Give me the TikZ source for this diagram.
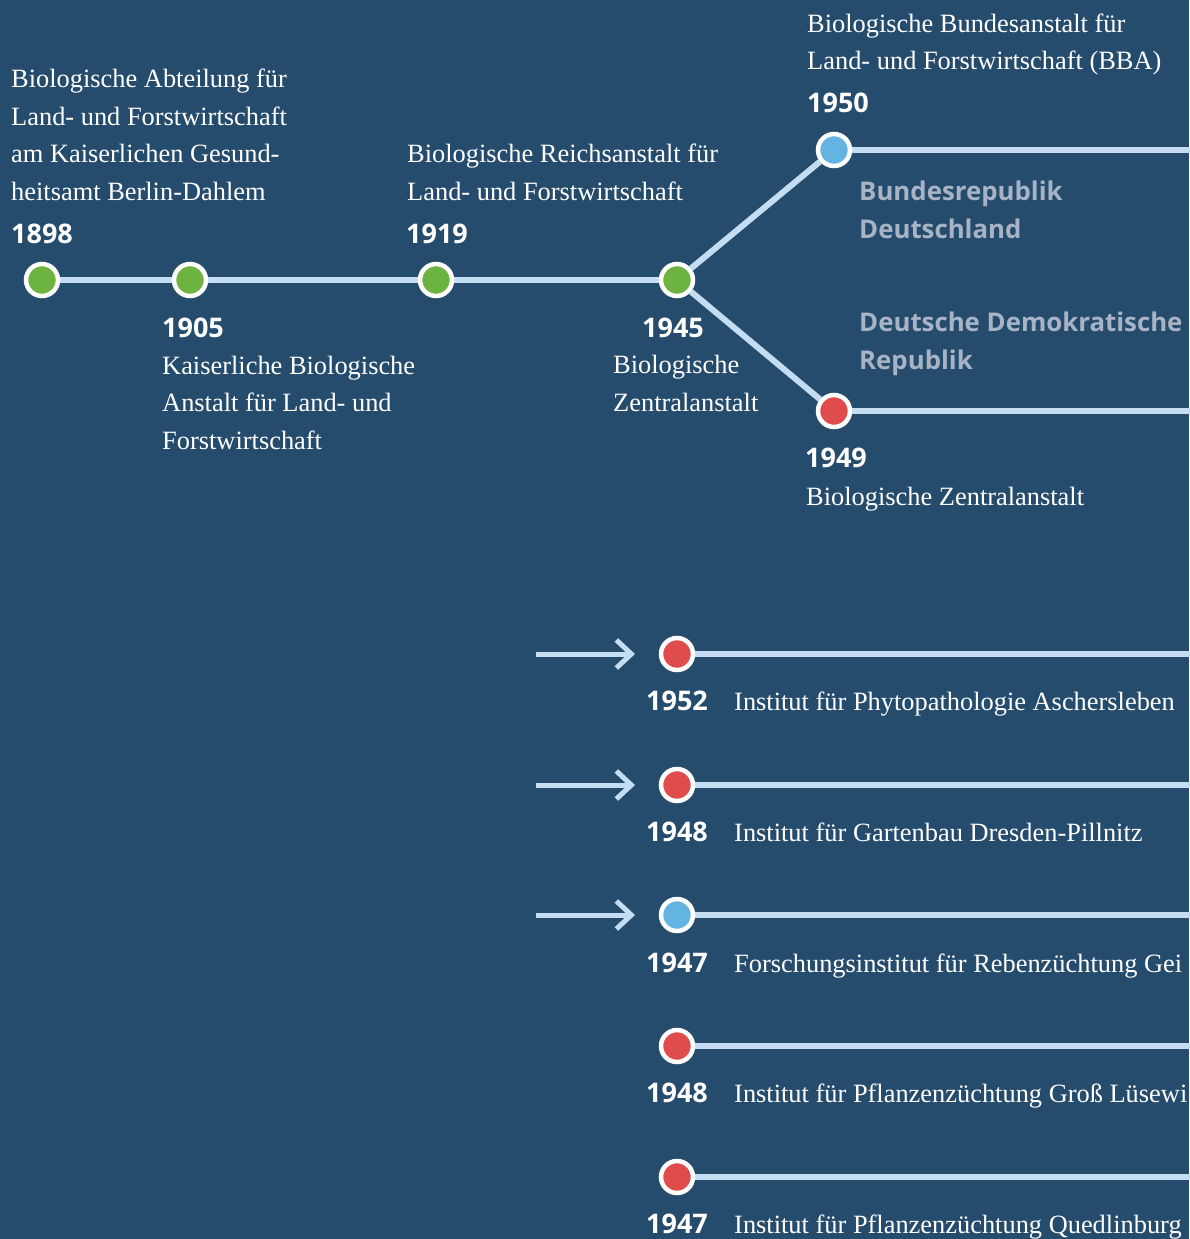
\documentclass[tikz,border=0pt]{standalone}
\usepackage{fontspec}
\setmainfont{Liberation Serif}
\newfontfamily\yearfont{Open Sans}[UprightFont=* Bold]
\usetikzlibrary{arrows.meta}
\definecolor{bgblue}{HTML}{264C6D}
\definecolor{linec}{HTML}{C5DDF2}
\definecolor{dotgreen}{HTML}{6DB33F}
\definecolor{dotred}{HTML}{E04B4B}
\definecolor{dotblue}{HTML}{63B4E1}
\definecolor{graytxt}{HTML}{A8B4C6}
\pgfdeclarelayer{bg}
\pgfdeclarelayer{background}
\pgfsetlayers{bg,background,main}
\tikzset{
  dot/.style={circle, draw=white, line width=4.5pt, minimum size=32pt, inner sep=0pt},
  gdot/.style={dot, fill=dotgreen},
  rdot/.style={dot, fill=dotred},
  bdot/.style={dot, fill=dotblue},
  tline/.style={draw=linec, line width=6pt},
  inarrow/.style={draw=linec, line width=5pt, -{Straight Barb[length=15pt, width=28pt, line width=5pt]}},
  serif/.style={anchor=base west, inner sep=0pt, text=white, align=left,
    font=\fontsize{26.4}{37.5}\selectfont},
  year/.style={anchor=base west, inner sep=0pt, text=white,
    font=\yearfont\fontsize{27}{32}\selectfont},
  country/.style={anchor=base west, inner sep=0pt, text=graytxt, align=left,
    font=\yearfont\fontsize{25.8}{38}\selectfont},
}
\begin{document}
\begin{tikzpicture}[x=1pt, y=-1pt]
\begin{pgfonlayer}{bg}
\fill[bgblue] (0,0) rectangle (1189,1239);
\end{pgfonlayer}
\useasboundingbox (0,0) rectangle (1189,1239);
\clip (0,0) rectangle (1189,1239);

% dots, upper part
\node[gdot] (d1898) at (42,280) {};
\node[gdot] (d1905) at (190,280) {};
\node[gdot] (d1919) at (436,280) {};
\node[gdot] (d1945) at (677,280) {};
\node[bdot] (d1950) at (834,150) {};
\node[rdot] (d1949) at (834,411) {};
\coordinate (e1950) at (1200,150);
\coordinate (e1949) at (1200,411);

% dots, lower part
\node[rdot] (l1) at (677,654) {};
\node[rdot] (l2) at (677,785) {};
\node[bdot] (l3) at (677,915) {};
\node[rdot] (l4) at (677,1046) {};
\node[rdot] (l5) at (677,1177) {};
\foreach \i/\y in {1/654,2/785,3/915,4/1046,5/1177}{
  \coordinate (le\i) at (1200,\y);
}
\foreach \i/\y in {1/654,2/785,3/915}{
  \coordinate (as\i) at (536,\y);
  \coordinate (ae\i) at (635,\y);
}

\begin{pgfonlayer}{background}
\draw[tline] (d1898) -- (d1905);
\draw[tline] (d1905) -- (d1919);
\draw[tline] (d1919) -- (d1945);
\draw[tline] (d1945) -- (d1950);
\draw[tline] (d1945) -- (d1949);
\draw[tline] (d1950) -- (e1950);
\draw[tline] (d1949) -- (e1949);
\foreach \i in {1,...,5}{ \draw[tline] (l\i) -- (le\i); }
\end{pgfonlayer}
\foreach \i in {1,2,3}{ \draw[inarrow] (as\i) -- (ae\i); }

% upper texts (multi-line nodes are placed by the baseline of their last line)
\node[serif] (t1898) at (11,200) {Biologische Abteilung für\\Land- und Forstwirtschaft\\am Kaiserlichen Gesund-\\heitsamt Berlin-Dahlem};
\node[year] (y1898) at (11,243) {1898};
\node[year] (y1905) at (162,337) {1905};
\node[serif] (t1905) at (162,449) {Kaiserliche Biologische\\Anstalt für Land- und\\Forstwirtschaft};
\node[serif] (t1919) at (407,200) {Biologische Reichsanstalt für\\Land- und Forstwirtschaft};
\node[year] (y1919) at (406,243) {1919};
\node[year] (y1945) at (642,337) {1945};
\node[serif] (t1945) at (613,411) {Biologische\\Zentralanstalt};
\node[serif] (t1950) at (807,70) {Biologische Bundesanstalt für\\Land- und Forstwirtschaft (BBA)};
\node[year] (y1950) at (807,112) {1950};
\node[country] (brd) at (859,238) {Bundesrepublik\\Deutschland};
\node[country] (ddr) at (859,369) {Deutsche Demokratische\\Republik};
\node[year] (y1949) at (805,467) {1949};
\node[serif] (t1949) at (806,505) {Biologische Zentralanstalt};

% lower texts
\node[year] (ly1) at (646,710) {1952};
\node[serif] (lt1) at (734,710) {Institut für Phytopathologie Aschersleben};
\node[year] (ly2) at (646,841) {1948};
\node[serif] (lt2) at (734,841) {Institut für Gartenbau Dresden-Pillnitz};
\node[year] (ly3) at (646,972) {1947};
\node[serif] (lt3) at (734,972) {Forschungsinstitut für Rebenzüchtung Gei};
\node[year] (ly4) at (646,1102) {1948};
\node[serif] (lt4) at (734,1102) {Institut für Pflanzenzüchtung Groß Lüsewi};
\node[year] (ly5) at (646,1233) {1947};
\node[serif] (lt5) at (734,1233) {Institut für Pflanzenzüchtung Quedlinburg};
\end{tikzpicture}
\end{document}
